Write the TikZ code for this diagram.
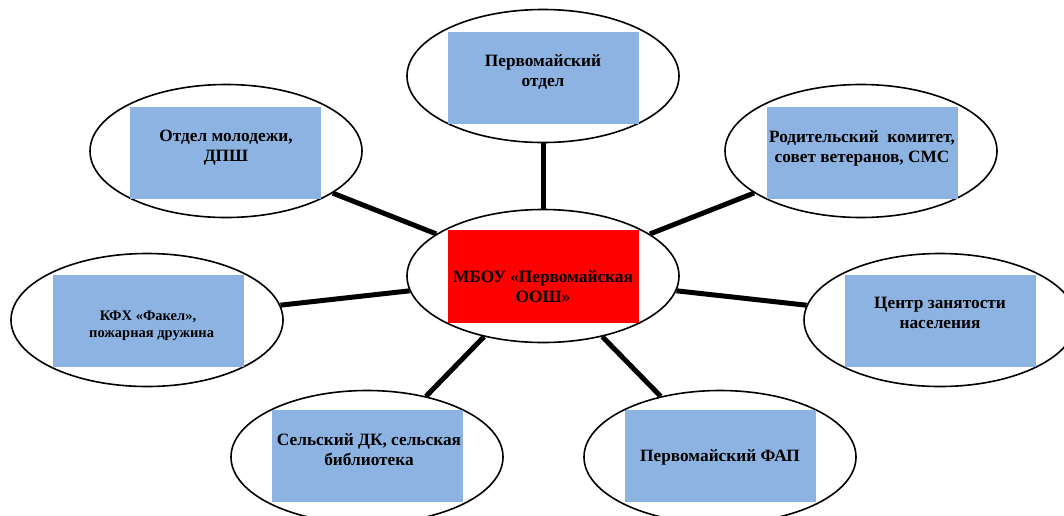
\documentclass[tikz,border=0pt]{standalone}
\usepackage{fontspec}
\setmainfont{Liberation Serif}
\usetikzlibrary{shapes.geometric}
\definecolor{boxblue}{HTML}{8DB3E2}
\begin{document}
\begin{tikzpicture}[x=1pt,y=-1pt,
  bubble/.style={ellipse, draw, line width=1.6pt, fill=white, minimum width=272pt, minimum height=133pt, inner sep=0pt},
  bluebox/.style={fill=boxblue, inner sep=0pt, minimum width=191pt, minimum height=92pt},
  redbox/.style={fill=red, inner sep=0pt, minimum width=191pt, minimum height=93pt},
  txt/.style={font=\bfseries\fontsize{17.3}{20}\selectfont, align=center, inner sep=0pt},
  smalltxt/.style={font=\bfseries\fontsize{14.5}{17}\selectfont, align=center, inner sep=0pt},
  link/.style={line width=5pt}]
\useasboundingbox (0,0) rectangle (1064,515);
\clip (0,0) rectangle (1064,515);
% bubbles
\node[bubble] (e1) at (543,76) {};
\node[bubble] (e0) at (543,276) {};
\node[bubble] (e2) at (226,151) {};
\node[bubble] (e3) at (861,151) {};
\node[bubble] (e4) at (147,320) {};
\node[bubble] (e5) at (940,320) {};
\node[bubble] (e6) at (367,457) {};
\node[bubble] (e7) at (720,457) {};
% connectors
\draw[link] (e0) -- (e1);
\draw[link] (e0) -- (e2);
\draw[link] (e0) -- (e3);
\draw[link] (e0) -- (e4);
\draw[link] (e0) -- (e5);
\draw[link] (e0) -- (e6);
\draw[link] (e0) -- (e7);
% boxes
\node[bluebox] (r1) at (543.5,78) {};
\node[redbox] (r0) at (543.5,276.5) {};
\node[bluebox] (r2) at (225.5,152.5) {};
\node[bluebox] (r3) at (862,152.5) {};
\node[bluebox] (r4) at (148,321) {};
\node[bluebox] (r5) at (940.5,321) {};
\node[bluebox] (r6) at (367.5,456) {};
\node[bluebox] (r7) at (720.5,455.5) {};
% texts
\node[txt] (t1) at (543,72) {Первомайский\\отдел};
\node[txt] (t0) at (543,287) {МБОУ «Первомайская\\ООШ»};
\node[txt] (t2) at (226,148) {Отдел молодежи,\\ДПШ};
\node[txt] (t3) at (862,148) {Родительский\ \ комитет,\\совет ветеранов, СМС};
\node[smalltxt] (t4) at (148,326) {КФХ «Факел»,\\\ \ пожарная дружина};
\node[txt] (t5) at (940,313) {Центр занятости\\населения};
\node[txt] (t6) at (369,450) {Сельский ДК, сельская\\библиотека};
\node[txt] (t7) at (720,457) {Первомайский ФАП};
\end{tikzpicture}
\end{document}
